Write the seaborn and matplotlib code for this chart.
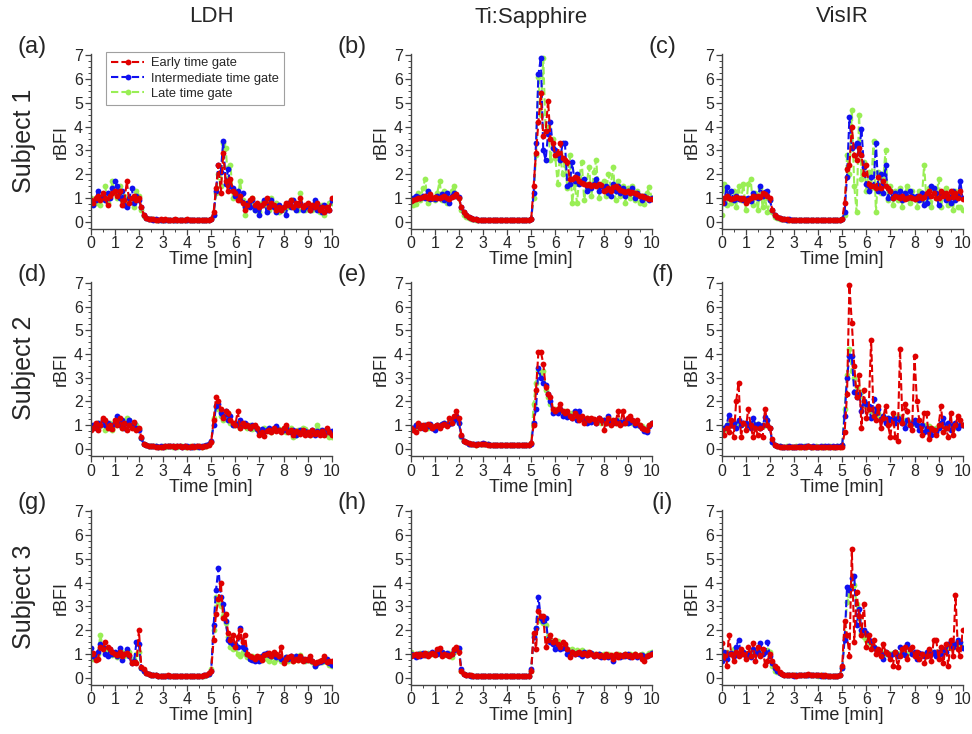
import numpy as np
import matplotlib
matplotlib.use("Agg")
import matplotlib.pyplot as plt
import seaborn as sns
from matplotlib.ticker import MultipleLocator

# sampling grid (min)
time = np.round(np.arange(0, 10.01, 0.1), 1)

devices = ["LDH", "Ti:Sapphire", "VisIR"]
subjects = ["Subject 1", "Subject 2", "Subject 3"]
panel_tags = ["(a)", "(b)", "(c)", "(d)", "(e)", "(f)", "(g)", "(h)", "(i)"]
gate_names = ["Early time gate", "Intermediate time gate", "Late time gate"]

# ---- Subject 1 ----
ldh_s1_early = [0.9, 0.8, 1.0, 1.1, 0.9, 1.2, 1.0, 0.7, 1.1, 1.2,
                1.3, 1.1, 1.3, 0.7, 0.9, 1.7, 0.8, 1.0, 1.1, 0.9,
                1.0, 0.6, 0.3, 0.15, 0.12, 0.1, 0.1, 0.09, 0.08, 0.1,
                0.08, 0.1, 0.09, 0.08, 0.08, 0.1, 0.07, 0.08, 0.09, 0.08,
                0.1, 0.08, 0.07, 0.09, 0.08, 0.07, 0.08, 0.07, 0.08, 0.07,
                0.1, 0.4, 1.4, 2.4, 1.2, 2.9, 1.7, 1.3, 1.8, 1.3,
                1.2, 0.9, 1.1, 0.8, 0.5, 0.7, 0.9, 1.0, 0.7, 0.8,
                0.6, 0.7, 0.8, 1.0, 0.6, 0.8, 0.7, 0.5, 0.6, 0.5,
                0.6, 0.8, 0.7, 0.9, 0.6, 0.8, 0.7, 1.0, 0.6, 0.7,
                0.8, 0.5, 0.7, 0.6, 0.8, 0.5, 0.6, 0.4, 0.6, 0.5,
                1.0]
ldh_s1_mid = [0.8, 0.7, 0.9, 1.3, 1.0, 1.1, 0.9, 1.2, 1.0, 1.4,
              1.7, 1.5, 1.0, 1.3, 0.7, 0.6, 1.0, 1.4, 0.8, 1.1,
              0.9, 0.6, 0.3, 0.15, 0.12, 0.1, 0.09, 0.1, 0.08, 0.09,
              0.08, 0.09, 0.08, 0.09, 0.07, 0.08, 0.08, 0.07, 0.08, 0.07,
              0.08, 0.07, 0.08, 0.07, 0.08, 0.07, 0.07, 0.08, 0.07, 0.07,
              0.1, 0.3, 1.3, 2.4, 2.1, 3.4, 1.6, 2.2, 1.5, 1.4,
              1.1, 1.3, 0.9, 1.2, 0.6, 0.8, 0.6, 0.9, 0.5, 0.7,
              0.3, 0.7, 0.9, 0.4, 0.7, 0.9, 0.6, 0.4, 0.7, 0.5,
              0.6, 0.3, 0.8, 0.6, 0.9, 0.5, 0.7, 0.8, 0.5, 0.6,
              0.7, 0.5, 0.6, 0.9, 0.5, 0.6, 0.4, 0.7, 0.5, 0.5,
              0.9]
ldh_s1_late = [1.0, 0.9, 0.8, 1.1, 0.7, 1.0, 1.5, 0.8, 1.1, 1.7,
               1.2, 1.0, 1.5, 0.9, 1.1, 0.7, 0.9, 1.0, 0.6, 1.3,
               1.1, 0.5, 0.25, 0.15, 0.12, 0.1, 0.1, 0.09, 0.09, 0.08,
               0.09, 0.08, 0.08, 0.09, 0.08, 0.07, 0.08, 0.08, 0.07, 0.08,
               0.07, 0.08, 0.07, 0.08, 0.07, 0.08, 0.07, 0.07, 0.08, 0.07,
               0.1, 0.3, 1.2, 2.0, 1.5, 3.3, 3.1, 1.8, 2.4, 1.0,
               1.3, 1.0, 1.7, 0.9, 0.3, 0.6, 0.8, 1.0, 0.5, 0.6,
               0.4, 0.8, 0.7, 0.9, 0.5, 1.0, 0.6, 0.8, 0.4, 0.5,
               0.5, 0.7, 0.6, 0.9, 0.6, 0.7, 0.5, 1.2, 0.6, 0.5,
               0.6, 0.7, 0.5, 0.8, 0.6, 0.4, 0.7, 0.3, 0.6, 0.8,
               0.8]

tis_s1_early = [0.85, 0.9, 0.95, 1.0, 1.0, 1.05, 1.1, 1.0, 1.15, 1.0,
                1.05, 1.0, 1.0, 1.05, 1.1, 1.0, 0.95, 1.05, 1.1, 1.15,
                1.0, 0.6, 0.4, 0.3, 0.2, 0.15, 0.12, 0.1, 0.08, 0.07,
                0.07, 0.06, 0.06, 0.07, 0.06, 0.06, 0.05, 0.06, 0.06, 0.05,
                0.06, 0.05, 0.06, 0.05, 0.06, 0.05, 0.05, 0.06, 0.05, 0.05,
                0.1, 1.5, 2.9, 4.2, 5.4, 3.6, 3.8, 5.1, 3.5, 3.3,
                2.8, 2.9, 3.3, 2.7, 2.6, 2.5, 1.8, 1.8, 1.9, 1.85,
                1.7, 1.65, 1.6, 1.55, 1.6, 1.5, 1.55, 1.5, 1.6, 1.55,
                1.3, 1.35, 1.4, 1.3, 1.45, 1.5, 1.4, 1.35, 1.3, 1.25,
                1.3, 1.2, 1.25, 1.2, 1.15, 1.1, 1.1, 1.05, 1.0, 0.95,
                0.95]
tis_s1_mid = [0.85, 1.0, 1.1, 1.05, 1.0, 1.1, 1.0, 1.3, 0.95, 1.0,
              0.95, 1.1, 1.0, 1.15, 0.9, 1.2, 0.8, 1.1, 1.2, 1.1,
              1.05, 0.6, 0.4, 0.3, 0.2, 0.15, 0.12, 0.1, 0.08, 0.07,
              0.06, 0.06, 0.07, 0.06, 0.05, 0.06, 0.06, 0.05, 0.06, 0.05,
              0.05, 0.06, 0.05, 0.06, 0.05, 0.05, 0.06, 0.05, 0.05, 0.06,
              0.1, 1.2, 3.3, 6.2, 6.9, 3.0, 2.6, 3.7, 4.2, 3.1,
              3.0, 2.8, 2.6, 3.3, 3.3, 1.5, 1.6, 2.5, 1.7, 2.0,
              1.6, 1.7, 1.8, 1.3, 1.5, 1.4, 1.6, 1.8, 1.3, 1.5,
              1.4, 1.5, 1.2, 1.1, 1.6, 1.3, 1.5, 1.2, 1.4, 1.1,
              1.3, 1.2, 1.4, 1.0, 1.2, 1.1, 0.9, 1.1, 1.0, 0.9,
              1.0]
tis_s1_late = [0.8, 0.7, 0.75, 1.2, 0.9, 1.4, 1.8, 0.8, 1.1, 1.0,
               0.9, 1.2, 1.7, 0.9, 1.3, 0.8, 1.0, 1.3, 1.5, 1.1,
               1.0, 0.5, 0.3, 0.2, 0.15, 0.12, 0.1, 0.08, 0.07, 0.07,
               0.06, 0.06, 0.05, 0.06, 0.06, 0.05, 0.06, 0.05, 0.06, 0.05,
               0.05, 0.06, 0.05, 0.05, 0.06, 0.05, 0.05, 0.06, 0.05, 0.05,
               0.1, 1.0, 2.8, 6.1, 4.5, 6.9, 3.8, 4.0, 2.6, 3.5,
               2.7, 1.6, 2.9, 2.0, 2.5, 1.4, 2.8, 0.8, 1.6, 0.8,
               1.9, 2.5, 0.9, 1.6, 2.3, 1.1, 2.1, 2.6, 1.0, 1.6,
               1.7, 1.1, 2.0, 1.5, 2.3, 0.9, 1.7, 1.1, 1.5, 0.8,
               1.4, 1.0, 1.5, 0.9, 1.3, 0.8, 1.1, 0.75, 1.2, 1.45,
               1.0]

vis_s1_early = [0.8, 1.0, 1.1, 1.0, 0.95, 1.0, 1.05, 1.0, 0.95, 1.0,
                0.8, 0.9, 1.0, 1.1, 1.05, 1.1, 1.05, 1.2, 1.15, 1.1,
                1.0, 0.5, 0.3, 0.2, 0.15, 0.12, 0.1, 0.1, 0.09, 0.08,
                0.08, 0.07, 0.08, 0.07, 0.07, 0.06, 0.07, 0.06, 0.07, 0.06,
                0.07, 0.06, 0.07, 0.06, 0.06, 0.07, 0.06, 0.07, 0.06, 0.08,
                0.1, 0.8, 2.2, 2.4, 4.0, 2.8, 2.6, 3.1, 2.8, 2.0,
                2.4, 1.6, 1.5, 1.5, 1.4, 1.9, 1.4, 1.7, 1.5, 1.4,
                1.3, 1.0, 1.1, 1.05, 1.0, 1.1, 0.95, 1.0, 1.05, 1.0,
                0.95, 1.0, 1.1, 1.0, 1.05, 1.2, 1.3, 1.1, 1.2, 1.0,
                1.0, 1.3, 1.1, 1.2, 1.0, 1.3, 1.05, 1.2, 1.0, 1.3,
                0.95]
vis_s1_mid = [0.9, 0.8, 1.45, 1.0, 1.3, 0.9, 1.1, 0.95, 1.0, 0.9,
              0.95, 1.0, 0.85, 1.2, 1.1, 1.0, 1.5, 1.1, 1.25, 1.3,
              0.9, 0.5, 0.3, 0.2, 0.15, 0.12, 0.1, 0.09, 0.1, 0.08,
              0.07, 0.08, 0.07, 0.06, 0.07, 0.06, 0.07, 0.06, 0.06, 0.07,
              0.06, 0.07, 0.06, 0.06, 0.07, 0.06, 0.06, 0.07, 0.06, 0.07,
              0.1, 0.4, 1.9, 4.4, 3.1, 3.2, 3.3, 2.9, 3.9, 2.3,
              1.6, 1.3, 1.9, 1.5, 3.3, 1.3, 2.0, 1.2, 2.4, 1.0,
              1.3, 1.0, 1.2, 1.1, 1.3, 0.9, 1.2, 1.0, 1.3, 1.1,
              1.0, 1.1, 0.9, 1.2, 0.7, 0.8, 1.1, 1.5, 1.4, 1.2,
              0.7, 1.1, 1.2, 0.9, 1.1, 0.8, 1.3, 0.9, 1.1, 1.7,
              1.0]
vis_s1_late = [0.3, 1.6, 0.7, 1.2, 0.8, 1.3, 0.6, 1.5, 0.9, 1.6,
               0.5, 1.6, 1.8, 0.7, 1.2, 0.5, 1.4, 0.6, 1.0, 0.4,
               0.9, 0.4, 0.2, 0.15, 0.12, 0.1, 0.1, 0.09, 0.08, 0.07,
               0.07, 0.06, 0.07, 0.06, 0.06, 0.07, 0.06, 0.06, 0.07, 0.06,
               0.06, 0.07, 0.06, 0.06, 0.06, 0.07, 0.06, 0.06, 0.07, 0.06,
               0.1, 0.3, 2.8, 2.0, 4.7, 1.5, 0.4, 4.5, 1.8, 2.5,
               1.3, 2.1, 1.4, 3.4, 0.4, 2.1, 1.2, 1.8, 3.0, 0.9,
               1.5, 0.7, 1.3, 0.9, 1.4, 0.6, 1.2, 1.5, 0.8, 1.3,
               1.0, 0.6, 1.3, 0.9, 2.4, 0.8, 1.4, 0.6, 1.3, 1.0,
               1.8, 0.6, 1.2, 1.4, 0.7, 1.1, 0.5, 1.3, 0.6, 0.6,
               0.5]

# ---- Subject 2 ----
ldh_s2_early = [0.8, 0.9, 1.1, 0.8, 1.0, 1.3, 1.2, 0.9, 1.0, 0.85,
                1.2, 1.0, 1.3, 0.9, 1.1, 0.8, 1.0, 0.9, 1.15, 0.8,
                0.9, 0.5, 0.2, 0.15, 0.12, 0.12, 0.11, 0.1, 0.1, 0.1,
                0.1, 0.11, 0.12, 0.11, 0.12, 0.1, 0.11, 0.12, 0.1, 0.11,
                0.1, 0.1, 0.11, 0.1, 0.12, 0.11, 0.1, 0.12, 0.14, 0.18,
                0.3, 1.2, 2.2, 2.0, 1.7, 1.3, 1.6, 1.5, 1.2, 1.1,
                1.0, 1.6, 0.9, 1.1, 0.95, 1.0, 0.9, 0.95, 1.0, 0.9,
                0.6, 0.7, 0.55, 0.75, 0.8, 0.7, 0.9, 0.75, 0.8, 0.7,
                0.9, 1.0, 0.7, 0.8, 0.6, 0.75, 0.7, 0.65, 0.8, 0.6,
                0.7, 0.6, 0.8, 0.65, 0.7, 0.6, 0.75, 0.6, 0.9, 0.7,
                0.6]
ldh_s2_mid = [0.9, 1.0, 0.9, 1.1, 1.0, 1.2, 1.0, 1.1, 0.9, 1.0,
              1.1, 1.4, 1.0, 1.2, 0.9, 1.1, 1.2, 1.0, 1.1, 0.9,
              0.8, 0.45, 0.2, 0.15, 0.12, 0.12, 0.11, 0.11, 0.1, 0.11,
              0.1, 0.11, 0.12, 0.12, 0.11, 0.1, 0.12, 0.11, 0.1, 0.11,
              0.11, 0.1, 0.1, 0.11, 0.12, 0.1, 0.11, 0.12, 0.15, 0.2,
              0.35, 1.0, 1.8, 1.9, 1.5, 1.4, 1.6, 1.2, 1.4, 1.0,
              1.1, 1.0, 1.2, 1.0, 1.1, 1.0, 0.9, 1.0, 0.95, 0.85,
              0.7, 0.85, 0.75, 0.8, 0.9, 0.75, 0.85, 0.95, 0.8, 0.75,
              0.8, 0.9, 0.75, 0.7, 0.8, 0.6, 0.7, 0.8, 0.7, 0.75,
              0.65, 0.7, 0.8, 0.6, 0.75, 0.7, 0.8, 0.65, 0.85, 0.7,
              0.75]
ldh_s2_late = [1.0, 0.9, 1.0, 1.1, 0.95, 1.2, 0.8, 1.0, 1.1, 0.8,
               1.0, 1.2, 1.1, 0.9, 1.1, 1.3, 1.2, 1.0, 0.9, 1.0,
               0.85, 0.45, 0.2, 0.15, 0.13, 0.12, 0.11, 0.11, 0.1, 0.1,
               0.11, 0.1, 0.11, 0.12, 0.1, 0.11, 0.1, 0.11, 0.12, 0.1,
               0.1, 0.11, 0.1, 0.12, 0.1, 0.11, 0.1, 0.12, 0.14, 0.19,
               0.3, 1.3, 1.8, 1.7, 1.4, 1.2, 1.3, 1.5, 1.1, 1.0,
               1.0, 1.1, 0.9, 1.0, 1.0, 0.9, 1.0, 0.85, 0.9, 0.85,
               0.8, 0.75, 0.9, 0.8, 0.75, 0.7, 0.8, 0.9, 0.85, 0.8,
               0.75, 0.7, 0.8, 0.9, 0.5, 0.6, 0.8, 0.7, 0.9, 0.85,
               0.7, 0.6, 0.75, 0.7, 1.0, 0.8, 0.7, 0.75, 0.6, 0.5,
               0.5]

tis_s2_early = [0.9, 0.8, 0.7, 1.1, 0.9, 1.0, 0.85, 1.05, 1.0, 0.9,
                0.95, 1.0, 0.9, 1.0, 1.05, 0.95, 1.3, 1.1, 1.4, 1.6,
                1.3, 0.6, 0.35, 0.3, 0.25, 0.2, 0.2, 0.18, 0.2, 0.2,
                0.2, 0.2, 0.18, 0.17, 0.18, 0.16, 0.17, 0.18, 0.16, 0.17,
                0.17, 0.16, 0.17, 0.16, 0.17, 0.15, 0.16, 0.15, 0.16, 0.18,
                0.25, 1.0, 2.5, 4.1, 4.1, 3.6, 2.6, 2.3, 2.2, 1.7,
                1.6, 1.7, 1.9, 1.6, 1.5, 1.6, 1.4, 1.3, 1.5, 1.4,
                1.2, 1.4, 1.1, 1.3, 1.2, 1.3, 1.25, 1.1, 1.3, 1.2,
                0.8, 1.1, 1.3, 1.0, 1.2, 1.1, 1.6, 1.0, 1.6, 1.1,
                1.3, 1.4, 1.2, 1.1, 1.2, 1.0, 0.9, 0.85, 0.8, 1.0,
                1.1]
tis_s2_mid = [0.9, 0.9, 1.0, 0.95, 1.0, 0.9, 1.0, 0.95, 1.05, 0.9,
              0.8, 1.0, 0.95, 1.05, 1.1, 1.0, 1.05, 1.1, 1.2, 1.4,
              1.1, 0.55, 0.35, 0.3, 0.22, 0.2, 0.2, 0.19, 0.2, 0.22,
              0.25, 0.2, 0.19, 0.18, 0.18, 0.17, 0.17, 0.16, 0.17, 0.16,
              0.16, 0.16, 0.15, 0.16, 0.16, 0.15, 0.15, 0.16, 0.15, 0.16,
              0.2, 1.1, 1.7, 3.4, 3.0, 2.8, 2.7, 2.3, 2.0, 1.5,
              1.6, 1.5, 1.7, 1.4, 1.5, 1.35, 1.4, 1.3, 1.6, 1.2,
              1.6, 1.3, 1.2, 1.1, 1.2, 1.15, 1.2, 1.1, 1.3, 1.2,
              1.2, 1.1, 1.4, 1.15, 1.1, 1.2, 1.1, 1.15, 1.1, 1.2,
              1.1, 1.15, 1.2, 1.0, 1.05, 0.95, 0.9, 0.75, 0.7, 0.95,
              1.1]
tis_s2_late = [0.9, 0.85, 1.0, 0.9, 1.0, 0.95, 1.0, 0.9, 1.0, 0.95,
               0.9, 1.0, 1.0, 1.05, 1.1, 1.05, 1.1, 1.15, 1.2, 1.35,
               1.1, 0.5, 0.35, 0.28, 0.22, 0.2, 0.19, 0.18, 0.19, 0.2,
               0.22, 0.2, 0.19, 0.18, 0.17, 0.17, 0.16, 0.17, 0.16, 0.16,
               0.16, 0.15, 0.16, 0.16, 0.15, 0.15, 0.16, 0.15, 0.16, 0.17,
               0.25, 1.9, 2.8, 3.3, 3.2, 3.3, 2.5, 2.2, 1.9, 1.6,
               1.7, 1.6, 1.6, 1.5, 1.6, 1.5, 1.4, 1.5, 1.4, 1.3,
               1.4, 1.3, 1.2, 1.3, 1.2, 1.25, 1.2, 1.15, 1.2, 1.1,
               1.2, 1.15, 1.1, 1.2, 1.15, 1.1, 1.2, 1.1, 1.15, 1.1,
               1.1, 1.2, 1.1, 1.05, 1.0, 1.0, 0.95, 0.9, 0.85, 1.0,
               1.1]

vis_s2_early = [0.8, 0.6, 0.9, 0.7, 1.2, 0.5, 2.0, 2.8, 0.5, 1.1,
                0.8, 1.7, 1.0, 0.5, 0.9, 0.6, 0.9, 0.5, 1.7, 1.0,
                0.9, 0.4, 0.15, 0.12, 0.1, 0.1, 0.09, 0.1, 0.1, 0.09,
                0.1, 0.09, 0.1, 0.1, 0.09, 0.1, 0.12, 0.09, 0.1, 0.08,
                0.08, 0.1, 0.09, 0.08, 0.1, 0.09, 0.08, 0.1, 0.09, 0.1,
                0.1, 0.7, 2.3, 6.9, 5.3, 3.5, 2.2, 3.1, 0.9, 2.5,
                1.3, 1.7, 4.6, 1.4, 1.2, 1.8, 0.9, 1.3, 1.8, 1.0,
                0.5, 1.5, 0.5, 0.35, 4.2, 1.1, 1.9, 1.6, 1.0, 0.8,
                3.9, 2.0, 1.2, 0.6, 1.5, 1.5, 0.4, 0.9, 0.8, 0.6,
                1.0, 1.8, 0.7, 0.9, 0.5, 1.5, 0.6, 1.0, 1.4, 1.2,
                1.0]
vis_s2_mid = [0.8, 0.9, 1.0, 1.45, 1.0, 1.1, 0.9, 1.2, 1.0, 1.1,
              1.1, 1.0, 0.9, 1.3, 1.0, 1.05, 0.9, 1.0, 1.35, 1.2,
              0.9, 0.3, 0.15, 0.12, 0.11, 0.1, 0.1, 0.1, 0.11, 0.1,
              0.1, 0.1, 0.12, 0.11, 0.1, 0.11, 0.12, 0.1, 0.11, 0.1,
              0.1, 0.12, 0.1, 0.11, 0.12, 0.1, 0.11, 0.1, 0.12, 0.11,
              0.15, 1.4, 3.0, 3.9, 3.9, 2.4, 2.2, 2.3, 1.6, 2.0,
              1.9, 1.8, 1.3, 2.1, 1.5, 1.7, 1.2, 1.4, 1.1, 1.3,
              1.2, 1.3, 1.1, 1.3, 1.2, 1.1, 0.9, 1.2, 1.0, 1.1,
              1.2, 1.0, 0.8, 1.0, 0.7, 0.9, 0.7, 0.6, 0.8, 0.7,
              0.9, 1.1, 1.3, 0.9, 1.1, 0.8, 1.0, 1.1, 0.9, 1.0,
              1.0]
vis_s2_late = [0.9, 0.8, 1.0, 1.1, 1.0, 1.05, 1.1, 1.0, 1.1, 1.05,
               1.1, 1.0, 1.05, 1.1, 1.0, 1.05, 1.0, 0.95, 1.0, 1.2,
               0.9, 0.3, 0.15, 0.12, 0.11, 0.1, 0.1, 0.11, 0.1, 0.1,
               0.1, 0.11, 0.1, 0.1, 0.11, 0.1, 0.11, 0.1, 0.1, 0.11,
               0.1, 0.1, 0.11, 0.1, 0.1, 0.11, 0.1, 0.1, 0.11, 0.1,
               0.15, 1.7, 3.1, 4.2, 3.3, 3.0, 2.6, 2.2, 2.4, 2.0,
               1.8, 1.7, 1.6, 1.5, 1.4, 1.5, 1.3, 1.4, 1.25, 1.3,
               1.2, 1.25, 1.3, 1.4, 1.2, 1.15, 1.2, 1.1, 1.15, 1.1,
               1.05, 1.1, 1.0, 0.95, 1.0, 0.9, 0.95, 0.9, 0.85, 0.9,
               0.9, 0.95, 1.0, 0.9, 0.95, 1.0, 0.9, 1.0, 0.95, 1.0,
               1.0]

# ---- Subject 3 ----
ldh_s3_early = [1.0, 1.05, 0.75, 0.8, 1.3, 1.2, 1.5, 1.3, 1.2, 1.1,
                1.0, 0.95, 1.1, 0.9, 1.0, 1.05, 0.95, 0.6, 0.65, 0.6,
                2.0, 0.45, 0.35, 0.2, 0.15, 0.12, 0.12, 0.1, 0.09, 0.08,
                0.09, 0.08, 0.1, 0.08, 0.09, 0.08, 0.07, 0.08, 0.07, 0.08,
                0.07, 0.06, 0.07, 0.06, 0.06, 0.07, 0.08, 0.1, 0.12, 0.2,
                0.3, 1.6, 2.7, 3.3, 4.0, 2.5, 2.7, 1.9, 1.6, 1.8,
                1.3, 1.7, 2.0, 1.5, 1.8, 1.0, 0.9, 0.85, 0.8, 0.9,
                0.85, 0.75, 0.95, 1.0, 1.05, 0.9, 1.1, 1.0, 0.9, 1.3,
                0.6, 0.8, 0.85, 0.9, 0.7, 0.8, 0.75, 0.9, 0.7, 0.8,
                0.75, 0.9, 0.7, 0.6, 0.65, 0.7, 0.75, 0.9, 0.65, 0.7,
                0.7]
ldh_s3_mid = [1.25, 0.9, 0.8, 1.1, 1.4, 1.3, 1.0, 0.9, 1.2, 1.0,
              1.1, 0.9, 1.25, 0.75, 1.0, 1.2, 0.9, 0.6, 0.7, 1.5,
              1.4, 0.4, 0.3, 0.2, 0.15, 0.12, 0.11, 0.1, 0.09, 0.08,
              0.08, 0.09, 0.08, 0.07, 0.08, 0.07, 0.08, 0.07, 0.08, 0.07,
              0.06, 0.07, 0.06, 0.07, 0.06, 0.07, 0.07, 0.1, 0.12, 0.15,
              0.3, 2.2, 3.7, 4.6, 3.4, 3.1, 2.4, 1.6, 1.5, 1.4,
              1.4, 1.3, 2.1, 1.3, 1.2, 1.0, 0.8, 0.75, 0.7, 0.8,
              0.7, 0.9, 1.0, 1.05, 0.95, 0.9, 1.0, 0.85, 0.9, 0.8,
              0.75, 0.85, 0.8, 0.9, 0.75, 0.9, 0.8, 0.85, 0.8, 0.75,
              0.8, 0.75, 0.7, 0.5, 0.6, 0.65, 0.7, 0.75, 0.8, 0.6,
              0.55]
ldh_s3_late = [1.0, 0.8, 0.85, 1.0, 1.8, 1.3, 1.1, 1.2, 1.0, 0.95,
               1.05, 0.85, 1.0, 1.1, 0.9, 1.0, 1.1, 0.7, 0.8, 1.0,
               1.1, 0.4, 0.3, 0.2, 0.15, 0.12, 0.1, 0.1, 0.09, 0.08,
               0.08, 0.08, 0.09, 0.08, 0.07, 0.08, 0.07, 0.08, 0.07, 0.07,
               0.07, 0.06, 0.07, 0.06, 0.07, 0.06, 0.08, 0.09, 0.11, 0.17,
               0.35, 2.0, 3.4, 3.2, 3.0, 2.6, 2.3, 1.7, 1.3, 1.2,
               1.25, 1.0, 0.9, 1.1, 1.0, 0.85, 0.8, 0.9, 0.85, 0.8,
               0.85, 0.9, 0.95, 0.8, 0.7, 0.9, 0.65, 0.8, 0.9, 0.7,
               0.75, 0.85, 0.7, 0.8, 0.7, 0.9, 0.75, 0.95, 0.8, 0.7,
               0.75, 0.8, 0.65, 0.5, 0.6, 0.7, 0.65, 0.7, 0.75, 0.55,
               0.5]

tis_s3_early = [0.9, 0.95, 1.0, 0.9, 1.0, 0.95, 1.05, 0.9, 1.0, 1.05,
                0.95, 1.2, 1.25, 0.9, 1.0, 0.95, 0.9, 1.0, 1.2, 1.3,
                1.1, 0.3, 0.15, 0.12, 0.1, 0.1, 0.09, 0.08, 0.08, 0.07,
                0.07, 0.06, 0.06, 0.07, 0.06, 0.07, 0.06, 0.07, 0.08, 0.07,
                0.08, 0.07, 0.08, 0.07, 0.06, 0.07, 0.06, 0.05, 0.06, 0.07,
                0.3, 1.9, 1.2, 2.8, 2.6, 2.6, 1.3, 1.6, 1.8, 1.5,
                1.6, 1.4, 1.3, 1.5, 1.4, 1.2, 0.85, 1.1, 1.0, 1.05,
                1.1, 1.0, 1.05, 0.95, 1.1, 1.0, 0.9, 1.0, 0.9, 0.95,
                0.85, 1.0, 0.9, 0.95, 0.8, 1.0, 0.85, 0.95, 0.9, 1.0,
                0.9, 0.95, 0.85, 1.0, 0.9, 0.95, 0.8, 0.7, 0.9, 0.95,
                1.0]
tis_s3_mid = [1.0, 0.95, 0.85, 1.0, 0.9, 1.05, 0.95, 1.0, 1.0, 1.1,
              1.05, 1.0, 1.05, 1.1, 1.0, 1.05, 0.95, 1.0, 1.15, 1.2,
              1.25, 0.35, 0.15, 0.12, 0.1, 0.09, 0.08, 0.08, 0.07, 0.07,
              0.06, 0.07, 0.06, 0.06, 0.07, 0.06, 0.07, 0.06, 0.07, 0.07,
              0.07, 0.06, 0.07, 0.06, 0.07, 0.06, 0.06, 0.06, 0.07, 0.08,
              0.35, 1.7, 2.1, 3.4, 2.5, 2.4, 2.5, 1.6, 1.5, 1.4,
              1.2, 1.3, 1.2, 1.25, 1.3, 1.0, 1.05, 1.1, 1.0, 1.05,
              1.0, 0.9, 1.1, 0.95, 1.0, 1.05, 0.9, 0.95, 1.0, 0.85,
              0.9, 0.95, 0.85, 0.9, 0.7, 0.95, 0.9, 0.85, 0.95, 0.9,
              1.0, 0.85, 0.9, 0.95, 0.85, 0.9, 0.95, 0.85, 0.9, 0.95,
              1.05]
tis_s3_late = [1.1, 1.0, 0.95, 1.0, 1.05, 1.0, 0.95, 1.05, 1.0, 1.0,
               1.0, 1.05, 1.0, 1.1, 0.95, 1.0, 1.05, 0.85, 1.1, 1.2,
               1.2, 0.3, 0.15, 0.12, 0.1, 0.09, 0.08, 0.08, 0.07, 0.07,
               0.07, 0.06, 0.07, 0.06, 0.07, 0.06, 0.07, 0.07, 0.06, 0.07,
               0.06, 0.07, 0.06, 0.07, 0.06, 0.07, 0.06, 0.07, 0.07, 0.08,
               0.3, 1.8, 2.1, 2.5, 2.4, 2.3, 2.2, 1.7, 1.6, 1.5,
               1.4, 1.55, 1.3, 1.4, 1.35, 1.2, 1.15, 1.2, 1.1, 1.15,
               1.1, 1.15, 1.05, 1.1, 1.0, 1.05, 1.0, 0.95, 1.0, 0.95,
               1.0, 0.95, 1.0, 0.9, 0.95, 0.9, 1.0, 0.95, 0.9, 1.0,
               0.95, 1.0, 0.95, 1.0, 0.9, 0.95, 1.0, 0.9, 0.95, 1.05,
               1.1]

vis_s3_early = [1.45, 0.9, 0.5, 1.8, 1.0, 0.7, 1.1, 0.9, 1.2, 1.0,
                0.8, 1.3, 0.9, 1.45, 0.7, 1.3, 0.9, 1.2, 0.55, 0.7,
                1.0, 0.7, 0.5, 0.4, 0.25, 0.15, 0.12, 0.1, 0.1, 0.11,
                0.1, 0.09, 0.11, 0.1, 0.12, 0.1, 0.15, 0.11, 0.1, 0.12,
                0.1, 0.11, 0.09, 0.1, 0.08, 0.07, 0.06, 0.08, 0.07, 0.1,
                0.5, 2.4, 1.8, 0.9, 5.4, 1.5, 3.6, 2.6, 1.8, 3.1,
                1.3, 1.8, 1.2, 1.6, 1.0, 1.2, 0.9, 1.4, 1.1, 1.0,
                0.8, 0.5, 1.1, 0.45, 0.9, 1.2, 1.3, 0.8, 1.2, 1.3,
                0.9, 1.1, 0.8, 1.0, 0.6, 0.9, 1.2, 0.7, 1.6, 1.6,
                0.8, 1.3, 0.6, 1.4, 0.5, 1.6, 0.9, 3.5, 1.2, 0.9,
                2.0]
vis_s3_mid = [0.7, 1.1, 0.8, 1.0, 1.05, 0.9, 1.3, 1.6, 1.0, 1.1,
              0.9, 1.0, 0.85, 1.2, 1.0, 1.1, 1.45, 1.0, 1.1, 1.5,
              0.9, 0.6, 0.4, 0.3, 0.2, 0.15, 0.12, 0.11, 0.1, 0.1,
              0.09, 0.1, 0.11, 0.1, 0.1, 0.11, 0.1, 0.12, 0.1, 0.11,
              0.1, 0.09, 0.1, 0.08, 0.07, 0.08, 0.07, 0.06, 0.08, 0.1,
              0.4, 1.6, 3.8, 3.7, 4.2, 4.3, 2.2, 2.9, 2.0, 2.0,
              1.9, 1.6, 1.5, 1.3, 1.2, 1.1, 1.0, 0.8, 1.1, 1.0,
              0.9, 1.0, 1.1, 0.9, 1.3, 1.0, 0.95, 1.4, 1.2, 1.0,
              1.1, 0.8, 1.05, 1.0, 0.9, 1.1, 0.95, 1.0, 1.1, 0.9,
              1.1, 1.0, 1.2, 1.1, 1.4, 1.5, 1.3, 1.4, 1.6, 1.5,
              1.25]
vis_s3_late = [1.0, 0.95, 1.1, 1.0, 1.05, 1.2, 1.1, 1.0, 1.05, 1.1,
               1.0, 1.05, 1.1, 1.0, 1.05, 1.1, 1.2, 1.05, 1.1, 1.15,
               1.1, 0.5, 0.3, 0.25, 0.2, 0.15, 0.12, 0.11, 0.1, 0.1,
               0.1, 0.1, 0.11, 0.1, 0.1, 0.11, 0.1, 0.11, 0.1, 0.1,
               0.09, 0.1, 0.09, 0.08, 0.08, 0.08, 0.07, 0.07, 0.08, 0.1,
               0.4, 1.7, 3.2, 3.5, 3.8, 3.9, 3.1, 2.5, 1.9, 1.7,
               1.6, 1.5, 1.4, 1.3, 1.2, 1.15, 1.1, 1.05, 1.0, 1.05,
               1.0, 1.05, 1.1, 1.0, 1.05, 1.1, 1.05, 1.0, 1.1, 1.05,
               1.0, 1.05, 1.0, 0.95, 1.0, 1.05, 1.0, 1.1, 1.05, 1.1,
               1.1, 1.05, 1.15, 1.2, 1.3, 1.25, 1.3, 1.4, 1.35, 1.3,
               1.3]

panels = [
    (ldh_s1_early, ldh_s1_mid, ldh_s1_late),
    (tis_s1_early, tis_s1_mid, tis_s1_late),
    (vis_s1_early, vis_s1_mid, vis_s1_late),
    (ldh_s2_early, ldh_s2_mid, ldh_s2_late),
    (tis_s2_early, tis_s2_mid, tis_s2_late),
    (vis_s2_early, vis_s2_mid, vis_s2_late),
    (ldh_s3_early, ldh_s3_mid, ldh_s3_late),
    (tis_s3_early, tis_s3_mid, tis_s3_late),
    (vis_s3_early, vis_s3_mid, vis_s3_late),
]

gate_colors = ["#E00000", "#1010F0", "#99EE55"]

sns.set_style("ticks")
plt.rcParams["font.family"] = ["Liberation Sans", "DejaVu Sans"]

W, H = 972, 734
fig = plt.figure(figsize=(W / 100, H / 100), dpi=100)

col_left = [90.7, 410.7, 721.7]
row_bottom = [228.8, 456.1, 684.8]
ax_w, ax_h = 241, 174.5

for k, series in enumerate(panels):
    r, c = divmod(k, 3)
    ax = fig.add_axes([col_left[c] / W, 1 - row_bottom[r] / H, ax_w / W, ax_h / H])
    # late first so early ends on top
    for g in [2, 1, 0]:
        sns.lineplot(x=time, y=series[g], ax=ax, color=gate_colors[g],
                     linestyle=(0, (3.5, 1.5)), linewidth=1.5, marker="o",
                     markersize=4.2, markeredgewidth=0,
                     label=gate_names[g] if k == 0 else None, legend=False)
    ax.set_xlim(0, 10)
    ax.set_ylim(-0.3, 7.05)
    ax.xaxis.set_major_locator(MultipleLocator(1))
    ax.xaxis.set_minor_locator(MultipleLocator(0.5))
    ax.yaxis.set_major_locator(MultipleLocator(1))
    ax.yaxis.set_minor_locator(MultipleLocator(0.25))
    ax.tick_params(which="major", length=4, width=0.9, labelsize=11.5, pad=1.5,
                   color="#444444")
    ax.tick_params(which="minor", length=2, width=0.7, color="#444444")
    for side in ["top", "right"]:
        ax.spines[side].set_visible(False)
    for side in ["left", "bottom"]:
        ax.spines[side].set_color("#444444")
        ax.spines[side].set_linewidth(1.0)
    ax.set_xlabel("Time [min]", fontsize=13, labelpad=0)
    ax.set_ylabel("rBFI", fontsize=13, labelpad=3)
    ax.text(-0.245, 1.04, panel_tags[k], transform=ax.transAxes,
            fontsize=17, ha="center", va="center")

    if k == 0:
        handles, labels = ax.get_legend_handles_labels()
        order = [labels.index(n) for n in gate_names]
        leg = ax.legend([handles[i] for i in order], [labels[i] for i in order],
                        loc="upper left", bbox_to_anchor=(0.035, 1.05),
                        fontsize=9.3, frameon=True, fancybox=False,
                        edgecolor="#888888", borderpad=0.4, labelspacing=0.25,
                        handlelength=2.6, handletextpad=0.5)
        leg.get_frame().set_linewidth(0.8)

for c, name in enumerate(devices):
    fig.text((col_left[c] + ax_w / 2) / W, 1 - 17 / H, name,
             fontsize=16, ha="center", va="center")

row_center = [141, 368, 597]
for r, name in enumerate(subjects):
    fig.text(24 / W, 1 - row_center[r] / H, name, rotation=90,
             fontsize=18, ha="center", va="center")

fig.savefig("out.png", dpi=100)
